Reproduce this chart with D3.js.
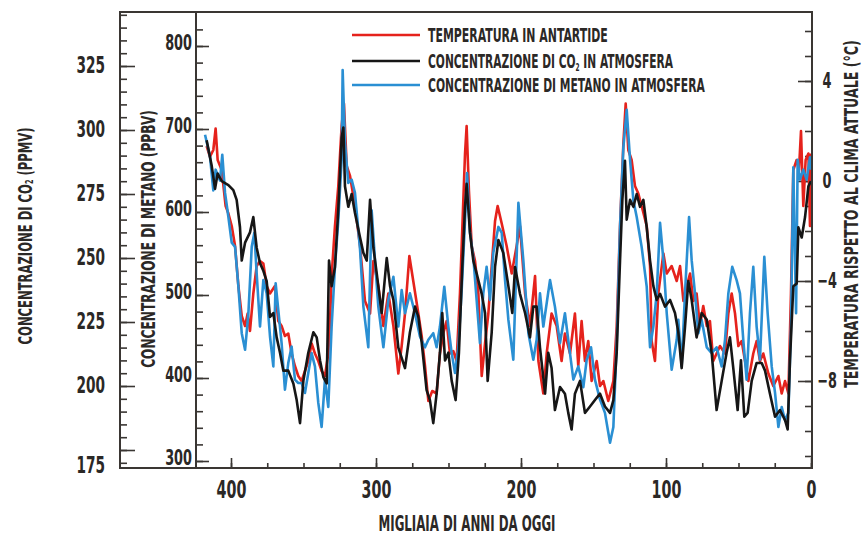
<!DOCTYPE html>
<html>
<head>
<meta charset="utf-8">
<script src="https://cdn.jsdelivr.net/npm/d3@7"></script>
<style>
html, body { margin: 0; padding: 0; background: #fff; }
svg { display: block; }
text { font-family: "Liberation Sans Narrow", "DejaVu Sans Condensed", "Liberation Sans", sans-serif; font-weight: bold; fill: #2b2826; }
</style>
</head>
<body>
<svg id="chart" width="865" height="538"></svg>
<script>
// temperature in Antarctica (deg C vs today), thousands of years before present
var tempAge = [416.8,414.5,412.2,410.6,409.2,406.4,403.7,401.8,399.5,397.2,394.9,392.6,390.3,388.5,386.9,384.6,382.3,380.0,377.7,375.4,373.1,369.7,367.4,365.1,362.8,360.5,358.2,355.9,353.6,351.3,349.0,346.7,344.4,342.1,339.8,337.5,335.2,332.9,331.7,330.6,328.3,326.0,323.7,322.1,320.2,317.9,314.5,
  311.0,307.6,304.1,301.8,298.4,294.9,291.5,288.0,284.6,282.3,280.0,277.0,274.3,270.8,268.5,266.2,263.9,261.2,258.2,255.9,253.6,251.3,249.0,246.7,244.4,242.1,239.8,238.6,237.5,235.9,234.0,231.7,229.4,227.1,224.8,222.5,220.2,217.9,216.1,213.3,209.9,206.4,203.0,
  200.7,197.2,193.8,190.3,188.0,184.6,182.3,178.9,175.4,172.0,169.7,166.2,162.8,160.5,158.2,155.9,153.6,151.3,147.8,145.5,143.2,139.8,136.3,134.0,131.7,129.4,127.8,126.0,123.7,121.4,119.1,116.8,113.3,111.0,109.9,107.6,105.3,101.8,99.5,96.1,92.6,
  90.3,88.0,85.7,83.4,81.1,78.9,76.6,74.3,71.9,69.7,67.4,65.1,62.8,59.3,57.0,54.7,52.4,50.1,47.8,45.5,43.2,39.8,37.5,35.2,32.9,29.4,26.0,22.5,20.2,17.9,15.6,13.8,12.2,9.9,8.3,6.9,5.3,3.7,1.8,0.7,0];
var tempVal = [1.4,0.97,1.24,2.1,0.84,0.44,-1.0,-1.3,-1.8,-2.6,-4.2,-5.4,-5.8,-5.3,-6.0,-4.5,-3.4,-3.2,-3.3,-4.2,-4.5,-4.2,-5.6,-5.8,-6.2,-6.1,-6.9,-7.4,-7.8,-8.0,-7.6,-7.2,-6.5,-6.9,-7.2,-7.6,-7.8,-6.9,-5.6,-3.8,-1.8,-0.2,2.2,3.1,0.6,0.2,-1.0,
  -2.6,-4.8,-5.3,-3.2,-4.2,-5.8,-4.5,-5.8,-7.7,-6.6,-5.3,-3.0,-4.0,-5.3,-6.2,-7.4,-8.8,-8.4,-8.5,-6.9,-6.1,-5.6,-6.9,-6.8,-7.2,-4.5,-0.8,1.1,2.2,-0.4,-2.6,-3.2,-4.5,-7.8,-6.5,-5.3,-3.4,-1.6,-1.0,-1.7,-2.6,-3.7,-2.6,
  -1.8,-4.5,-5.8,-3.8,-7.2,-8.5,-6.9,-5.3,-5.8,-7.2,-6.1,-6.9,-5.3,-7.4,-5.6,-7.2,-6.4,-8.0,-7.2,-8.2,-8.0,-8.8,-8.0,-5.8,-1.8,1.5,3.1,1.24,0.84,-0.2,-0.5,-1.0,-1.8,-3.4,-6.4,-7.2,-4.5,-2.9,-3.7,-3.4,-4.0,
  -3.4,-4.8,-4.2,-3.7,-4.8,-4.5,-5.8,-5.0,-5.8,-5.6,-7.2,-6.9,-6.6,-6.9,-5.3,-4.5,-5.3,-6.6,-6.4,-7.2,-8.0,-6.9,-6.4,-7.2,-6.9,-7.7,-8.2,-7.8,-8.5,-8.0,-8.5,-4.5,0.44,0.84,0.44,2.0,-1.0,0.84,1.1,-1.8,1.1];

// CO2 (ppmv)
var co2Age = [416.8,413.3,411.0,409.2,406.4,401.8,398.4,396.1,393.8,392.6,390.3,386.9,384.6,382.3,380.0,377.7,375.4,373.1,370.8,368.5,366.2,363.9,360.5,357.0,354.7,352.4,350.1,346.7,343.2,340.9,338.6,336.3,334.0,332.4,330.6,328.3,326.0,323.7,322.5,321.4,319.1,316.8,314.5,311.0,
  308.7,306.4,304.1,301.8,299.5,296.1,292.6,290.3,288.0,284.6,280.0,276.6,273.1,270.8,268.5,265.1,262.8,260.5,258.2,255.9,254.3,252.4,250.1,247.8,245.1,242.8,240.5,238.6,237.5,235.2,232.9,230.6,227.1,224.8,223.0,220.2,217.9,215.6,212.2,208.7,206.0,204.1,
  200.7,197.2,193.8,191.5,189.2,186.9,183.4,181.2,178.9,176.6,173.1,169.7,167.4,165.1,162.8,159.3,155.9,152.4,149.0,145.5,142.1,138.6,136.3,134.0,131.7,130.1,128.3,127.1,124.8,122.5,120.2,117.9,115.6,113.3,111.0,108.7,106.4,104.1,100.7,97.2,93.8,
  91.5,89.2,86.9,84.6,82.3,78.9,75.4,71.9,68.5,65.1,61.6,58.2,55.9,53.6,50.6,48.3,46.0,43.7,40.9,37.5,34.0,31.7,28.3,24.8,21.4,17.9,16.1,14.5,12.2,9.9,8.7,6.4,4.1,1.8,0];
var co2Val = [296,286,277,283,280,278.5,276.5,272.7,262,249,256,260,266,254,248,245,241,227,228.5,219,213,206,206,201,194.5,185.5,202,213,221,219,210,203.5,201,249,239,246.5,269,297,301,278,270,275,267.6,258,
  252,249,272.7,254,244,228.5,250,239,233.6,215,207,221,231,227,217,198.4,194.5,185.5,197,213,228.5,210,213,202,194.5,213,246.5,270,279,260,249,244,236,228.5,202,221,246.5,257,252,239,228.5,246.5,
  236,228.5,219,231,231,215,197,213,207,190.6,199.6,197,189.5,183,197,202,189.5,192,194.5,197,192,189.5,194.5,213,249,272.7,288,265,272.7,270,275,270,272.7,262,249,239,233.6,236,231,233.6,228.5,
  221,207,223,241,233.6,219,228.5,226,213,190.6,202,213,219,207,190.6,210,188,189.5,202,209,209,206,197,188,190.6,186.7,183,210,239,240,262,258,266,278,280];

// methane (ppbv)
var ch4Age = [417.9,414.5,412.2,410.6,407.6,406.0,404.1,401.8,399.5,397.2,394.9,392.6,390.3,388.0,385.7,383.9,382.3,380.0,377.7,375.4,373.1,370.8,369.2,367.4,365.1,362.8,360.5,358.2,355.9,353.6,351.3,349.0,346.7,344.4,342.1,339.8,337.5,335.2,332.9,330.6,328.3,326.0,323.7,323.0,321.4,319.1,316.8,314.5,311.0,
  308.7,305.3,303.0,300.7,298.4,294.9,291.5,288.0,284.6,282.3,280.0,276.6,273.1,269.7,266.2,263.9,260.5,258.2,255.9,252.9,250.1,247.8,245.5,243.2,240.9,238.6,237.2,235.2,232.9,230.6,228.3,226.0,223.7,221.4,219.1,215.6,213.3,211.0,208.7,205.3,
  201.8,198.4,194.9,191.5,189.2,186.9,184.6,180.0,176.6,173.1,169.7,167.4,163.9,160.5,157.0,154.7,151.7,149.0,145.5,142.1,138.6,136.3,134.0,131.7,129.4,127.1,124.8,122.5,120.2,116.8,113.3,111.0,108.7,106.4,104.1,101.8,99.5,96.1,92.6,
  91.5,89.2,86.9,84.1,82.3,80.0,77.7,75.4,71.9,68.5,65.1,61.6,59.3,57.0,54.3,51.3,49.0,46.7,44.4,42.1,39.8,37.5,35.2,32.2,29.9,27.1,24.8,22.5,20.2,17.9,15.6,13.8,12.2,10.3,9.2,7.6,5.3,3.0,0.7,0];
var ch4Val = [693,667,626,651,638,669,623,594,563,558,510,454,434,478,558,575,526,462,518,502,450,414,514,482,442,386,418,438,398,394,394,382,406,430,414,370,341,398,365,462,534,590,663,771,683,635,639,623,555,
  486,437,602,542,486,437,494,522,462,506,478,502,478,450,437,446,454,437,462,510,462,430,406,437,506,590,647,575,546,494,442,502,534,494,551,582,575,518,470,422,
  611,542,454,422,446,502,462,518,486,442,478,446,398,414,389,422,437,398,374,358,322,341,442,582,678,723,663,614,594,558,510,437,462,502,587,542,478,410,446,
  470,414,502,594,542,502,454,470,437,430,437,414,446,502,534,518,502,446,398,478,534,462,422,546,478,414,382,341,365,349,358,462,654,478,663,639,651,639,666,651];

var ageTicks = [400, 300, 200, 100, 0];
var co2Ticks = [175, 200, 225, 250, 275, 300, 325];
var ch4Ticks = [300, 400, 500, 600, 700, 800];
var tempTicks = [-8, -4, 0, 4];

var seriesNames = ["TEMPERATURA IN ANTARTIDE", "CONCENTRAZIONE DI CO|2| IN ATMOSFERA", "CONCENTRAZIONE DI METANO IN ATMOSFERA"];
var seriesColors = ["#e5221c", "#161616", "#2a8fd3"];

var svg = d3.select("#chart");
var ink = "#3a3633";
var frameL = 120, frameIn = 196, frameR = 812, frameT = 12, frameB = 468;

var x = d3.scaleLinear().domain([400, 0]).range([231, 811]);
var yTemp = d3.scaleLinear().domain([-8, 4]).range([381, 81]);
var yCo2 = d3.scaleLinear().domain([200, 300]).range([386, 130]);
var yCh4 = d3.scaleLinear().domain([300, 800]).range([461, 46]);

function axisGroup(axis, tx, ty) {
  var g = svg.append("g").attr("transform", "translate(" + tx + "," + ty + ")").call(axis);
  g.select(".domain").remove();
  g.selectAll("line").attr("stroke", ink).attr("stroke-width", 1.6);
  return g;
}
// squeeze labels horizontally, the original uses a tall condensed face
function condense(sel, k) {
  sel.each(function() {
    var w = this.getComputedTextLength();
    d3.select(this).attr("textLength", w * k).attr("lengthAdjust", "spacingAndGlyphs");
  });
}

// CO2 axis (outer left)
axisGroup(d3.axisLeft(yCo2).tickValues(d3.range(170, 346, 5)).tickSizeInner(-7).tickSizeOuter(0).tickFormat(""), frameL, 0);
var gC = axisGroup(d3.axisLeft(yCo2).tickValues(co2Ticks).tickSizeInner(-15).tickSizeOuter(0).tickPadding(15), frameL, 0);
gC.selectAll("text").attr("font-size", 23).attr("dy", function(d) { return d === co2Ticks[0] ? "0.98em" : "0.3em"; });
condense(gC.selectAll("text"), 0.66);

// methane axis (inner left)
axisGroup(d3.axisLeft(yCh4).tickValues(d3.range(300, 821, 20)).tickSizeInner(-7).tickSizeOuter(0).tickFormat(""), frameIn, 0);
var gM = axisGroup(d3.axisLeft(yCh4).tickValues(ch4Ticks).tickSizeInner(-13).tickSizeOuter(0).tickPadding(4), frameIn, 0);
gM.selectAll("text").attr("font-size", 21).attr("dy", "0.16em");
condense(gM.selectAll("text"), 0.68);

// temperature axis (right)
axisGroup(d3.axisRight(yTemp).tickValues(d3.range(-11, 7, 1)).tickSizeInner(-7).tickSizeOuter(0).tickFormat(""), frameR, 0);
var gT = axisGroup(d3.axisRight(yTemp).tickValues(tempTicks).tickSizeInner(-14).tickSizeOuter(0).tickPadding(12), frameR, 0);
gT.selectAll("text").attr("font-size", 21).attr("text-anchor", "middle").attr("x", 15);
condense(gT.selectAll("text"), 0.68);

// age axis (bottom)
axisGroup(d3.axisBottom(x).tickValues(d3.range(0, 401, 25)).tickSizeInner(-5).tickSizeOuter(0).tickFormat(""), 0, frameB);
var gA = axisGroup(d3.axisBottom(x).tickValues(ageTicks).tickSizeInner(-10).tickSizeOuter(0).tickPadding(13), 0, frameB);
gA.selectAll("text").attr("font-size", 24);
condense(gA.selectAll("text"), 0.66);

// frame
svg.append("rect").attr("x", frameL).attr("y", frameT).attr("width", frameR - frameL).attr("height", frameB - frameT)
  .attr("fill", "none").attr("stroke", ink).attr("stroke-width", 2);
svg.append("line").attr("x1", frameIn).attr("x2", frameIn).attr("y1", frameT).attr("y2", frameB)
  .attr("stroke", ink).attr("stroke-width", 2);

svg.append("clipPath").attr("id", "plot").append("rect")
  .attr("x", frameIn + 1).attr("y", frameT + 1).attr("width", frameR - frameIn - 2).attr("height", frameB - frameT - 2);

var plot = svg.append("g").attr("clip-path", "url(#plot)");

function drawSeries(ages, vals, yScale, color) {
  var line = d3.line().x(function(d) { return x(d[0]); }).y(function(d) { return yScale(d[1]); });
  plot.append("path").datum(d3.zip(ages, vals))
    .attr("d", line).attr("fill", "none").attr("stroke", color)
    .attr("stroke-width", 2.6).attr("stroke-linejoin", "round");
}
drawSeries(tempAge, tempVal, yTemp, seriesColors[0]);
drawSeries(ch4Age, ch4Val, yCh4, seriesColors[2]);
drawSeries(co2Age, co2Val, yCo2, seriesColors[1]);

// text helper: writes parts, "|" marks a subscript piece
function label(parts, size, anchor) {
  var t = svg.append("text").attr("font-size", size).attr("text-anchor", anchor);
  parts.split("|").forEach(function(p, i) {
    var s = t.append("tspan").text(p);
    if (i % 2 === 1) s.attr("font-size", size * 0.55).attr("dy", size * 0.18);
    else if (i > 0) s.attr("dy", -size * 0.18);
  });
  return t;
}
function fit(t, tx, ty, rot, target) {
  var w = t.node().getComputedTextLength();
  var k = target ? target / w : 1;
  t.attr("transform", "translate(" + tx + "," + ty + ") rotate(" + rot + ") scale(" + k + ",1)");
}

// titles
fit(label("CONCENTRAZIONE DI CO|2| (PPMV)", 20, "middle").attr("dominant-baseline", "central"), 25, 236, -90, 217);
fit(label("CONCENTRAZIONE DI METANO (PPBV)", 20, "middle").attr("dominant-baseline", "central"), 148, 239, -90, 258);
fit(label("TEMPERATURA RISPETTO AL CLIMA ATTUALE (°C)", 20, "middle").attr("dominant-baseline", "central"), 851, 214, -90, 348);
fit(label("MIGLIAIA DI ANNI DA OGGI", 22, "middle"), 467, 531, 0, 177);

// legend
var legendY = [35, 61, 85];
var legendW = [180, 245, 277];
seriesNames.forEach(function(name, i) {
  svg.append("line").attr("x1", 352).attr("x2", 420).attr("y1", legendY[i]).attr("y2", legendY[i])
    .attr("stroke", seriesColors[i]).attr("stroke-width", 2.6);
  fit(label(name, 19, "start"), 428, legendY[i] + 7, 0, legendW[i]);
});
</script>
</body>
</html>
